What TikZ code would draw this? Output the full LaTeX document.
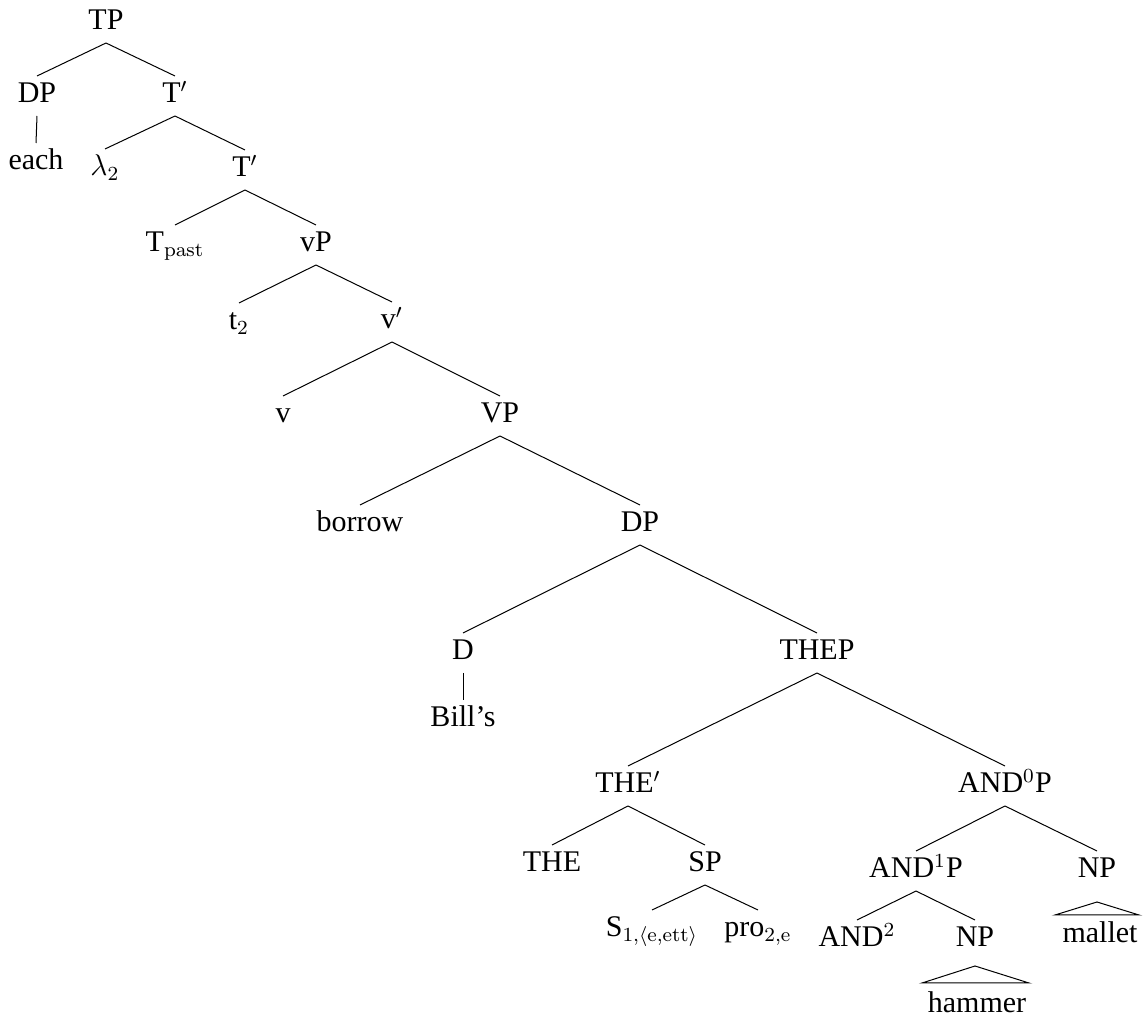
\documentclass[tikz,border=0pt,12pt]{standalone}
\usepackage[no-math]{fontspec}
\setmainfont{Liberation Serif}
\usetikzlibrary{calc}
\newcommand\treeedge[2]{\draw[branch] ($(#1.base)+(0,13)$) -- ($(#2.base)+(0,-27)$);}
\begin{document}
\begin{tikzpicture}[x=0.4pt,y=-0.4pt,
  lbl/.style={anchor=base,inner sep=0pt,outer sep=0pt,font=\fontsize{12pt}{14pt}\selectfont},
  branch/.style={line width=0.4pt,black}]
\useasboundingbox (0,0) rectangle (1148,1018);
% nodes
\node[lbl] (TP) at (106,30) {TP};
\node[lbl] (DPa) at (37,103) {DP};
\node[lbl] (each) at (36,170) {each};
\node[lbl] (Ta) at (175,103) {T$'$};
\node[lbl] (lam) at (105,176) {$\lambda_2$};
\node[lbl] (Tb) at (245,177) {T$'$};
\node[lbl] (Tpast) at (175,252) {T$_{\mathrm{past}}$};
\node[lbl] (vP) at (316,252) {vP};
\node[lbl] (t2) at (239,330) {t$_2$};
\node[lbl] (vbar) at (392,329) {v$'$};
\node[lbl] (v) at (283,423) {v};
\node[lbl] (VP) at (500,423) {VP};
\node[lbl] (borrow) at (360,532) {borrow};
\node[lbl] (DPb) at (640,532) {DP};
\node[lbl] (D) at (463,660) {D};
\node[lbl] (bills) at (463,727) {Bill's};
\node[lbl] (THEP) at (817,660) {THEP};
\node[lbl] (THEbar) at (628,793) {THE$'$};
\node[lbl] (ANDzP) at (1005,793) {AND$^0$P};
\node[lbl] (THE) at (552,872) {THE};
\node[lbl] (SP) at (705,872) {SP};
\node[lbl] (S) at (652,937) {S$_{1,\langle\mathrm{e,ett}\rangle}$};
\node[lbl] (pro) at (758,937) {pro$_{2,\mathrm{e}}$};
\node[lbl] (ANDoP) at (916,878) {AND$^1$P};
\node[lbl] (NPa) at (1097,878) {NP};
\node[lbl] (mallet) at (1100,943) {mallet};
\node[lbl] (ANDt) at (857,947) {AND$^2$};
\node[lbl] (NPb) at (975,947) {NP};
\node[lbl] (hammer) at (977,1013) {hammer};
% branches
\treeedge{TP}{DPa}
\treeedge{TP}{Ta}
\treeedge{DPa}{each}
\treeedge{Ta}{lam}
\treeedge{Ta}{Tb}
\treeedge{Tb}{Tpast}
\treeedge{Tb}{vP}
\treeedge{vP}{t2}
\treeedge{vP}{vbar}
\treeedge{vbar}{v}
\treeedge{vbar}{VP}
\treeedge{VP}{borrow}
\treeedge{VP}{DPb}
\treeedge{DPb}{D}
\treeedge{DPb}{THEP}
\treeedge{D}{bills}
\treeedge{THEP}{THEbar}
\treeedge{THEP}{ANDzP}
\treeedge{THEbar}{THE}
\treeedge{THEbar}{SP}
\treeedge{SP}{S}
\treeedge{SP}{pro}
\treeedge{ANDzP}{ANDoP}
\treeedge{ANDzP}{NPa}
\treeedge{ANDoP}{ANDt}
\treeedge{ANDoP}{NPb}
% roofs
\draw[branch] ($(NPa.base)+(0,24)$) -- ($(NPa.base)+(-42,37)$) -- ($(NPa.base)+(42,37)$) -- cycle;
\draw[branch] ($(NPb.base)+(0,19)$) -- ($(NPb.base)+(-53,36)$) -- ($(NPb.base)+(54,36)$) -- cycle;
\end{tikzpicture}
\end{document}
